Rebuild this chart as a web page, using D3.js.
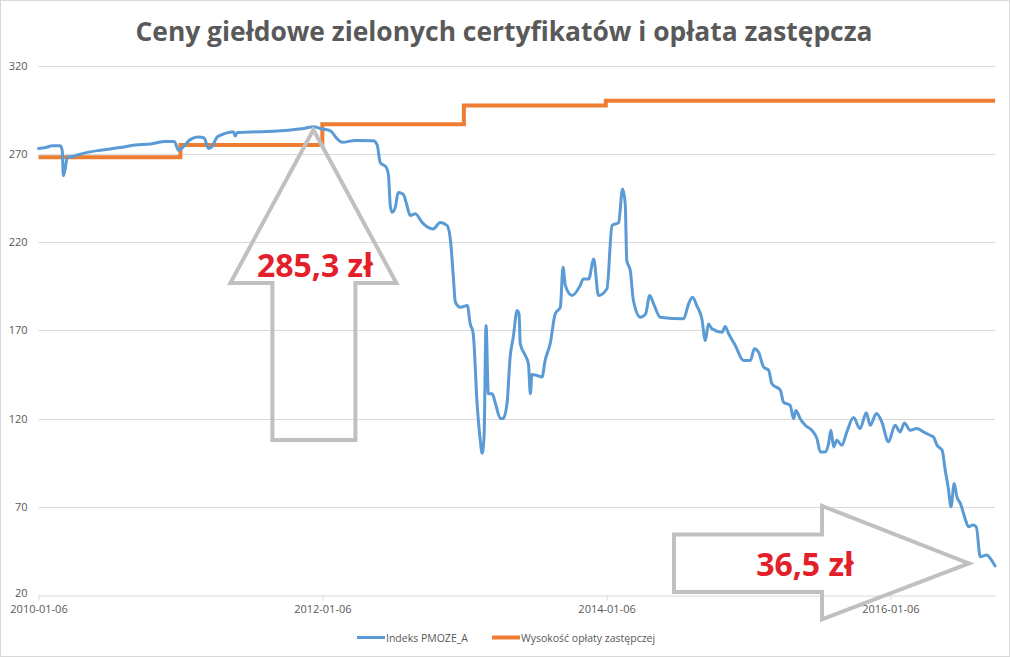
<!DOCTYPE html>
<html>
<head>
<meta charset="utf-8">
<script src="https://cdn.jsdelivr.net/npm/d3@7"></script>
<style>
  html, body { margin: 0; padding: 0; background: #fff; }
  svg { display: block; }
  text { font-family: "Open Sans", "DejaVu Sans", sans-serif; }
</style>
</head>
<body>
<svg id="chart" width="1010" height="657"></svg>
<script>
// ---------- DATA ----------
const chartTitle = "Ceny giełdowe zielonych certyfikatów i opłata zastępcza";
const seriesNames = ["Indeks PMOZE_A", "Wysokość opłaty zastępczej"];
const yTicks = [20, 70, 120, 170, 220, 270, 320];
const xTickLabels = ["2010-01-06", "2012-01-06", "2014-01-06", "2016-01-06"];
const xDomain = ["2010-01-06", "2016-10-01"];

const pmozeDates = [
  "2010-01-06","2010-01-24","2010-02-11","2010-03-03","2010-03-08","2010-03-11","2010-03-16","2010-03-21",
  "2010-04-03","2010-05-06","2010-06-14","2010-08-04","2010-09-12","2010-10-21","2010-11-28","2010-12-21",
  "2011-01-01","2011-01-09","2011-01-31","2011-02-21","2011-03-08","2011-03-19","2011-03-26","2011-04-11",
  "2011-05-01","2011-05-22","2011-05-27","2011-06-01","2011-07-30","2011-10-16","2011-11-23","2011-12-14",
  "2012-01-06","2012-01-27","2012-02-11","2012-02-26","2012-03-31","2012-05-16","2012-05-26","2012-06-03",
  "2012-06-18","2012-06-24","2012-06-29","2012-07-04","2012-07-12","2012-07-19","2012-08-01","2012-08-09",
  "2012-08-19","2012-09-01","2012-09-19","2012-10-17","2012-11-04","2012-11-22","2012-12-01","2012-12-08",
  "2012-12-13","2012-12-26","2013-01-13","2013-01-20","2013-01-28","2013-02-07","2013-02-15","2013-02-20",
  "2013-02-25","2013-03-02","2013-03-08","2013-03-18","2013-03-26","2013-04-08","2013-04-15","2013-04-25",
  "2013-05-03","2013-05-11","2013-05-21","2013-05-26","2013-05-29","2013-06-11","2013-06-19","2013-06-24",
  "2013-06-28","2013-07-11","2013-07-24","2013-08-01","2013-08-14","2013-08-27","2013-09-09","2013-09-16",
  "2013-09-22","2013-10-09","2013-10-30","2013-11-07","2013-11-21","2013-12-04","2013-12-16","2014-01-07",
  "2014-01-20","2014-02-06","2014-02-16","2014-02-23","2014-02-27","2014-03-08","2014-03-16","2014-04-03",
  "2014-04-16","2014-04-27","2014-05-07","2014-05-24","2014-07-23","2014-08-05","2014-08-15","2014-08-26",
  "2014-09-08","2014-09-17","2014-09-25","2014-10-04","2014-10-30","2014-11-07","2014-11-16","2014-12-03",
  "2014-12-24","2015-01-11","2015-01-21","2015-02-01","2015-02-14","2015-02-27","2015-03-07","2015-03-29",
  "2015-04-06","2015-04-23","2015-05-02","2015-05-08","2015-05-19","2015-06-01","2015-06-18","2015-07-01",
  "2015-07-10","2015-07-22","2015-07-31","2015-08-06","2015-08-13","2015-08-21","2015-09-03","2015-09-16",
  "2015-10-03","2015-10-20","2015-11-05","2015-11-15","2015-12-01","2015-12-15","2016-01-01","2016-01-18",
  "2016-01-31","2016-02-11","2016-02-26","2016-03-14","2016-03-31","2016-04-17","2016-04-26","2016-05-05",
  "2016-05-18","2016-05-26","2016-06-03","2016-06-10","2016-06-18","2016-06-25","2016-07-04","2016-07-16",
  "2016-07-25","2016-08-05","2016-08-14","2016-08-24","2016-09-10","2016-09-19","2016-09-27","2016-10-01"
];
const pmozeValues = [
  273, 273.5, 274.5, 274.5, 272, 257.5, 262, 268,
  268.5, 270.5, 272, 273.5, 275, 275.5, 277, 277,
  272, 273, 278, 279.5, 279, 273, 273.5, 279.5,
  281.5, 282.5, 280, 282, 282.5, 283.5, 284.5, 285.3,
  284, 283, 279, 276.5, 277.5, 277.3, 275, 265,
  262.5, 258, 240, 236.8, 240, 248, 247, 242,
  235, 236, 231, 227.4, 231, 229.3, 220, 200,
  186, 183, 184, 174, 168, 128.6, 108, 100.3,
  110, 172.7, 134, 134, 128.6, 120, 120, 128.6,
  154.8, 166, 181.2, 179, 162.4, 155.7, 151, 134,
  145, 144.4, 143.5, 152.9, 162.4, 179.3, 183, 205.7,
  195.3, 189.7, 195.3, 199, 199, 210.4, 189.7, 193.5,
  229.3, 231, 250, 241.5, 209.5, 203.8, 186.9, 177.4,
  179, 189.7, 185, 177.4, 176.5, 185, 188.7, 184,
  176.5, 164.2, 173.6, 170.8, 168.9, 172.1, 168, 161.4,
  152.9, 152.9, 159.5, 157.5, 149.1, 147.3, 139.7, 136,
  129.3, 127.5, 119.9, 124.6, 119.9, 116.2, 113.3, 108.6,
  101, 101, 105.8, 113.3, 103.9, 107.7, 104.8, 112.4,
  120.5, 114.3, 123.2, 116.2, 122.8, 118, 106.8, 116.2,
  112.4, 117.5, 113.3, 114.3, 112.4, 110.5, 109.5, 104.8,
  102, 90.7, 80.3, 70, 83.2, 75.6, 71.9, 63.4,
  58.6, 59.6, 58.5, 41.7, 42.6, 40.7, 38, 36.5
];

const feeDates = ["2010-01-06", "2011-01-06", "2012-01-06", "2013-01-04", "2014-01-04", "2016-10-01"];
const feeValues = [267.95, 274.92, 286.74, 297.35, 300.03, 300.03];

const annotations = ["285,3 zł", "36,5 zł"];

// ---------- SETUP ----------
const parse = d3.timeParse("%Y-%m-%d");
const svg = d3.select("#chart");
const W = 1010, H = 657;
const plot = { left: 38.5, right: 995, top: 65.5, bottom: 595 };

const colors = { pmoze: "#5B9BD5", fee: "#ED7D31", text: "#595959", grid: "#D9D9D9", arrow: "#C0C0C0", red: "#E3202A" };

// frame
svg.append("rect").attr("x", 0.5).attr("y", 0.5).attr("width", W - 1).attr("height", H - 1)
  .attr("fill", "#fff").attr("stroke", "#D9D9D9");

const x = d3.scaleTime().domain(xDomain.map(parse)).range([plot.left, plot.right]);
const y = d3.scaleLinear().domain([20, 320]).range([plot.bottom, plot.top]);

// gridlines
svg.append("g").selectAll("line").data(yTicks.slice(1)).join("line")
  .attr("x1", plot.left).attr("x2", plot.right)
  .attr("y1", d => Math.round(y(d)) + 0.5).attr("y2", d => Math.round(y(d)) + 0.5)
  .attr("stroke", colors.grid).attr("stroke-width", 1);

// y axis
const yAxis = d3.axisLeft(y).tickValues(yTicks).tickSize(0).tickPadding(11);
const gy = svg.append("g").attr("transform", `translate(${plot.left},0)`).call(yAxis);
gy.select(".domain").remove();
gy.selectAll("text").attr("fill", colors.text).attr("font-size", 11).attr("font-family", "Open Sans");
gy.selectAll(".tick").filter(d => d === 20).select("text").attr("dy", "0.1em");

// x axis
const xAxis = d3.axisBottom(x).tickValues(xTickLabels.map(parse)).tickFormat(d3.timeFormat("%Y-%m-%d"))
  .tickSizeInner(5).tickSizeOuter(0).tickPadding(5);
const gx = svg.append("g").attr("transform", `translate(0,${Math.round(plot.bottom) + 0.5})`).call(xAxis);
gx.select(".domain").attr("stroke", colors.grid);
gx.selectAll(".tick line").attr("stroke", colors.grid);
gx.selectAll("text").attr("fill", colors.text).attr("font-size", 11).attr("font-family", "Open Sans");

// series
const pmoze = pmozeDates.map((d, i) => ({ date: parse(d), value: pmozeValues[i] }));
const fee = feeDates.map((d, i) => ({ date: parse(d), value: feeValues[i] }));

svg.append("path").datum(fee)
  .attr("fill", "none").attr("stroke", colors.fee).attr("stroke-width", 4)
  .attr("d", d3.line().x(d => x(d.date)).y(d => y(d.value)).curve(d3.curveStepAfter));

svg.append("path").datum(pmoze)
  .attr("fill", "none").attr("stroke", colors.pmoze).attr("stroke-width", 3)
  .attr("stroke-linejoin", "round").attr("stroke-linecap", "round")
  .attr("d", d3.line().x(d => x(d.date)).y(d => y(d.value)).curve(d3.curveMonotoneX));

// title
svg.append("text").attr("x", 504).attr("y", 41).attr("text-anchor", "middle")
  .attr("font-size", 26.4).attr("font-weight", 700).attr("fill", colors.text)
  .text(chartTitle);

// legend
const legend = svg.append("g").attr("font-size", 10.5).attr("fill", colors.text);
const legendItems = [
  { name: seriesNames[0], color: colors.pmoze, x1: 357, x2: 385, w: 3 },
  { name: seriesNames[1], color: colors.fee, x1: 492, x2: 520, w: 4 }
];
legendItems.forEach(it => {
  legend.append("line").attr("x1", it.x1).attr("x2", it.x2).attr("y1", 637.5).attr("y2", 637.5)
    .attr("stroke", it.color).attr("stroke-width", it.w);
  legend.append("text").attr("x", it.x2 + 1).attr("y", 641.5).attr("fill", colors.text).text(it.name);
});

// annotations: arrows anchored to data points
const peak = pmoze.reduce((a, b) => (b.value > a.value ? b : a));
const last = pmoze[pmoze.length - 1];

// up arrow
const tx = x(peak.date), ty = y(peak.value) + 3;
const upPts = [
  [tx, ty], [tx + 83, 283], [tx + 42, 283], [tx + 42, 440],
  [tx - 41, 440], [tx - 41, 283], [tx - 83, 283]
];
svg.append("polygon").attr("points", upPts.map(p => p.join(",")).join(" "))
  .attr("fill", "none").attr("stroke", colors.arrow).attr("stroke-width", 4).attr("stroke-linejoin", "miter");
svg.append("text").attr("x", tx + 1.5).attr("y", 277).attr("text-anchor", "middle")
  .attr("font-size", 32).attr("font-weight", 700).attr("fill", colors.red).text(annotations[0]);

// right arrow
const rx = x(last.date) - 26, ry = y(last.value) - 2.5;
const rPts = [
  [rx, ry], [rx - 147, ry + 56], [rx - 147, ry + 28.5], [rx - 295, ry + 28.5],
  [rx - 295, ry - 29], [rx - 147, ry - 29], [rx - 147, ry - 57.5]
];
svg.append("polygon").attr("points", rPts.map(p => p.join(",")).join(" "))
  .attr("fill", "none").attr("stroke", colors.arrow).attr("stroke-width", 4).attr("stroke-linejoin", "miter");
svg.append("text").attr("x", 805).attr("y", 575.5).attr("text-anchor", "middle")
  .attr("font-size", 32).attr("font-weight", 700).attr("fill", colors.red).text(annotations[1]);
</script>
</body>
</html>
